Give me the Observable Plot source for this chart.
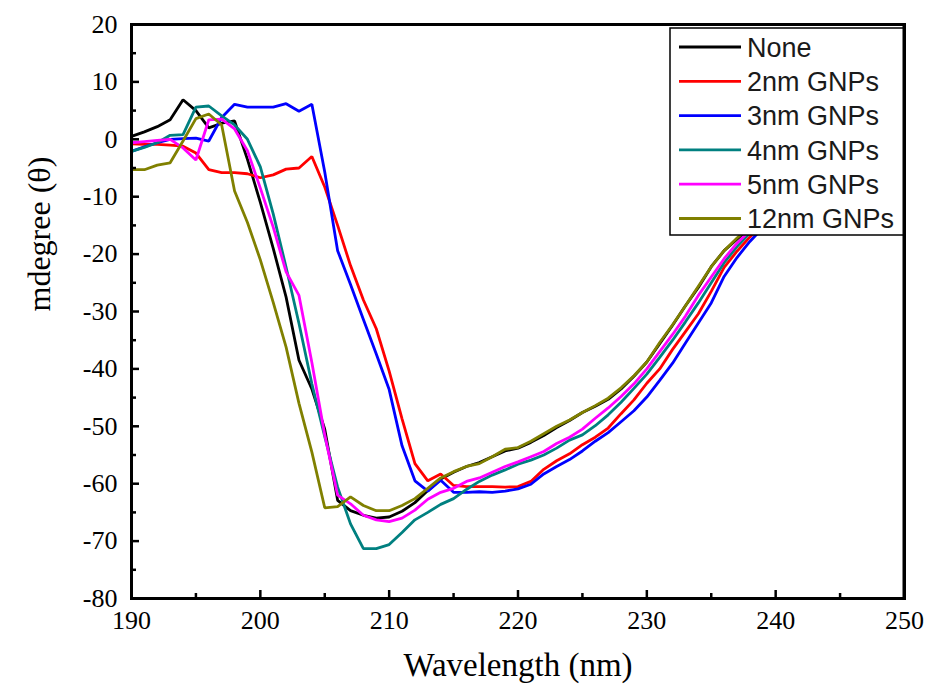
<!DOCTYPE html>
<html>
<head>
<meta charset="utf-8">
<script src="https://cdn.jsdelivr.net/npm/d3@7"></script>
<script src="https://cdn.jsdelivr.net/npm/@observablehq/plot@0.6"></script>
<style>
  html, body { margin: 0; padding: 0; background: white; }
  #chart { width: 933px; height: 697px; }
  #chart svg text { font-family: "Liberation Serif", "Times New Roman", "DejaVu Serif", serif !important; }
  #chart svg g.legend text { font-family: "Liberation Sans", Arial, sans-serif !important; text-anchor: start; }
</style>
</head>
<body>
<div id="chart"></div>
<script>
const wavelength = [190,191,192,193,194,195,196,197,198,199,200,201,202,203,204,205,206,207,208,209,210,211,212,213,214,215,216,217,218,219,220,221,222,223,224,225,226,227,228,229,230,231,232,233,234,235,236,237,238,239,240,241,242,243,244,245,246,247,248,249,250];

const seriesNames = ["None", "2nm GNPs", "3nm GNPs", "4nm GNPs", "5nm GNPs", "12nm GNPs"];
const seriesColors = ["#000000", "#ff0000", "#0000ff", "#008080", "#ff00ff", "#808000"];

const none = [0.5,1.3,2.2,3.4,6.9,5.0,2.0,2.8,3.2,-3.5,
  -11.0,-19.0,-27.5,-38.5,-43.5,-50.5,-62.9,-64.7,-65.5,-66.0,
  -65.8,-64.8,-63.3,-61.2,-59.2,-58.0,-57.0,-56.3,-55.3,-54.3,
  -53.8,-52.8,-51.6,-50.2,-49.0,-47.6,-46.5,-45.3,-43.5,-41.3,
  -38.8,-35.6,-32.4,-29.0,-25.8,-22.2,-19.4,-17.4,-15.5,-13.6,
  -11.9,-10.3,-8.9,-7.6,-6.5,-5.5,-4.6,-3.8,-3.1,-2.5,-2.0];
const gnp2 = [-0.8,-0.9,-0.9,-1.0,-1.2,-2.4,-5.3,-5.8,-5.8,-6.0,
  -6.7,-6.2,-5.2,-5.0,-3.0,-8.3,-15.0,-22.0,-28.0,-33.0,
  -40.4,-48.7,-56.5,-59.5,-58.3,-60.3,-60.5,-60.5,-60.5,-60.6,
  -60.5,-59.6,-57.5,-56.0,-54.8,-53.2,-51.9,-50.3,-47.8,-45.4,
  -42.5,-40.0,-36.6,-33.5,-30.4,-26.5,-22.3,-19.5,-17.0,-14.9,
  -13.0,-11.3,-9.8,-8.4,-7.1,-6.0,-5.0,-4.1,-3.3,-2.7,-2.1];
const gnp3 = [-2.1,-1.3,-0.6,0.0,0.1,0.2,-0.3,3.8,6.1,5.6,
  5.6,5.6,6.2,4.9,6.1,-5.7,-19.4,-25.3,-31.4,-37.4,
  -43.6,-53.4,-59.5,-61.3,-59.4,-61.5,-61.5,-61.4,-61.5,-61.3,
  -60.9,-60.1,-58.3,-57.0,-55.8,-54.3,-52.6,-51.1,-49.2,-47.3,
  -44.9,-42.0,-39.0,-35.5,-32.0,-28.5,-23.9,-20.6,-17.8,-15.4,
  -13.3,-11.5,-9.9,-8.5,-7.2,-6.1,-5.1,-4.2,-3.4,-2.8,-2.2];
const gnp4 = [-2.1,-1.4,-0.6,0.7,0.8,5.6,5.8,4.1,2.5,0.0,
  -4.8,-13.0,-22.3,-32.1,-42.6,-51.8,-60.6,-67.0,-71.3,-71.3,
  -70.6,-68.5,-66.3,-65.0,-63.6,-62.6,-61.0,-59.6,-58.5,-57.6,
  -56.6,-55.9,-55.0,-53.8,-52.4,-51.5,-49.9,-48.0,-45.8,-43.4,
  -40.9,-38.0,-35.0,-31.8,-28.5,-25.0,-21.5,-18.7,-16.3,-14.2,
  -12.4,-10.8,-9.3,-8.0,-6.8,-5.7,-4.8,-3.9,-3.2,-2.6,-2.0];
const gnp5 = [-0.6,-0.4,-0.2,0.0,-1.5,-3.6,3.4,3.5,1.8,-2.0,
  -8.5,-15.3,-23.1,-27.2,-38.9,-51.5,-62.0,-63.5,-65.5,-66.3,
  -66.6,-66.0,-64.6,-62.7,-61.5,-60.8,-59.6,-59.0,-58.0,-57.0,
  -56.2,-55.3,-54.4,-53.0,-51.9,-50.5,-48.6,-46.8,-44.8,-42.6,
  -40.0,-37.0,-34.0,-30.8,-27.2,-24.0,-20.8,-18.1,-15.9,-13.9,
  -12.2,-10.6,-9.1,-7.8,-6.6,-5.5,-4.5,-3.6,-2.8,-2.1,-1.6];
const gnp12 = [-5.3,-5.3,-4.5,-4.1,-0.3,3.6,4.4,2.5,-9.0,-14.5,
  -21.0,-28.4,-36.2,-46.0,-54.5,-64.2,-64.0,-62.3,-63.8,-64.7,
  -64.7,-63.8,-62.6,-60.8,-59.0,-57.9,-57.0,-56.5,-55.3,-54.0,
  -53.7,-52.6,-51.3,-50.0,-48.9,-47.6,-46.4,-45.1,-43.3,-41.2,
  -38.8,-35.4,-32.3,-29.0,-25.6,-22.2,-19.4,-17.2,-15.3,-13.5,
  -11.8,-10.2,-8.8,-7.5,-6.4,-5.4,-4.4,-3.5,-2.7,-2.0,-1.5];

const xTicksMajor = [190, 200, 210, 220, 230, 240, 250];
const xTicksMinor = [195, 205, 215, 225, 235, 245];
const yTicksMajor = [20, 10, 0, -10, -20, -30, -40, -50, -60, -70, -80];
const yTicksMinor = [15, 5, -5, -15, -25, -35, -45, -55, -65, -75];

const seriesValues = [none, gnp2, gnp3, gnp4, gnp5, gnp12];
const data = seriesNames.flatMap((name, k) =>
  wavelength.map((w, i) => ({w, v: seriesValues[k][i], s: name})));

const W = 933, H = 697;
const mL = 131, mR = 29, mT = 24, mB = 99;
const plotW = W - mL - mR, plotH = H - mT - mB;
const serif = "Liberation Serif";

const plot = Plot.plot({
  width: W, height: H,
  marginLeft: mL, marginRight: mR, marginTop: mT, marginBottom: mB,
  style: {background: "white", color: "black", overflow: "visible"},
  x: {domain: [190, 250], axis: null},
  y: {domain: [-80, 20], axis: null},
  color: {domain: seriesNames, range: seriesColors},
  marks: [
    Plot.line(data, {x: "w", y: "v", z: "s", stroke: "s", strokeWidth: 2.8, strokeLinejoin: "miter"}),
    Plot.tickX(xTicksMajor, {x: d => d, insetTop: plotH - 8, stroke: "black", strokeWidth: 2.5}),
    Plot.tickX(xTicksMinor, {x: d => d, insetTop: plotH - 5, stroke: "black", strokeWidth: 2.5}),
    Plot.tickY(yTicksMajor, {y: d => d, insetRight: plotW - 8, stroke: "black", strokeWidth: 2.5}),
    Plot.tickY(yTicksMinor, {y: d => d, insetRight: plotW - 5, stroke: "black", strokeWidth: 2.5}),
    Plot.axisX(xTicksMajor, {anchor: "bottom", tickSize: 0, tickPadding: 12, tickFormat: d => String(d), fontSize: 26, fontFamily: serif, label: null}),
    Plot.axisY(yTicksMajor, {anchor: "left", tickSize: 0, tickPadding: 14, tickFormat: d => String(d), fontSize: 26, fontFamily: serif, label: null}),
    Plot.frame({stroke: "black", strokeWidth: 3}),
    Plot.text(["Wavelength (nm)"], {frameAnchor: "bottom", dy: 77, text: d => d, fontSize: 33, fontFamily: serif, fill: "black"}),
    Plot.text(["mdegree (\u03B8)"], {frameAnchor: "left", dx: -92, rotate: -90, text: d => d, fontSize: 32, fontFamily: serif, fill: "black"})
  ]
});

document.getElementById("chart").appendChild(plot);

// Legend inside the plot, top-right
const svg = d3.select(plot);
const lg = svg.append("g").attr("class", "legend");
const lx = 670, ly = 28, lw = 905 - 670, lh = 207;
lg.append("rect").attr("x", lx).attr("y", ly).attr("width", lw).attr("height", lh)
  .attr("fill", "white").attr("stroke", "black").attr("stroke-width", 1.5);
seriesNames.forEach((name, i) => {
  const cy = 47 + i * 34.3;
  lg.append("line").attr("x1", 679).attr("x2", 741).attr("y1", cy).attr("y2", cy)
    .attr("stroke", seriesColors[i]).attr("stroke-width", 2.8);
  lg.append("text").attr("x", 747).attr("y", cy).attr("dy", "0.36em")
    .attr("text-anchor", "start")
    .attr("font-size", 27)
    .attr("fill", "#1a1a1a").text(name);
});
// redraw right frame edge over legend
svg.append("line").attr("x1", W - mR).attr("x2", W - mR).attr("y1", mT).attr("y2", H - mB)
  .attr("stroke", "black").attr("stroke-width", 3);
</script>
</body>
</html>
